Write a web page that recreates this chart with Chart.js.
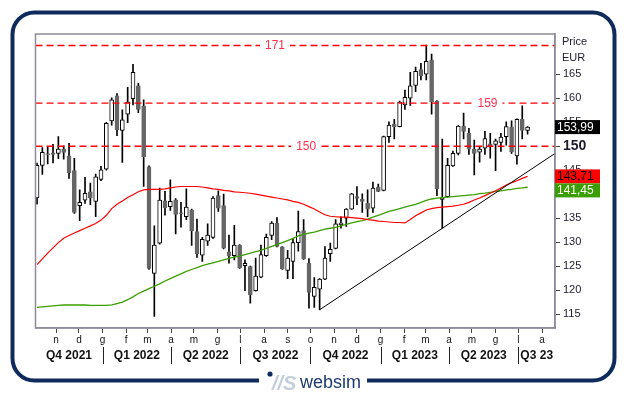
<!DOCTYPE html>
<html>
<head>
<meta charset="utf-8">
<title>Prezzo settimanale</title>
<script src="https://cdn.jsdelivr.net/npm/chart.js@4.4.0/dist/chart.umd.min.js"></script>
<style>
  html, body { margin: 0; padding: 0; background: #fff; }
  canvas { display: block; }
</style>
</head>
<body>
<canvas id="chartPrezzo" width="629" height="395"></canvas>
<script>
// candele settimanali (prima settimana, poi una ogni 7 giorni)
const firstWeek = '2021-10-07';
const opens = [139.2,146.0,148.3,148.6,148.5,149.4,148.0,144.9,137.6,138.75, 140.5,138.5,143.1,145.2,155.3,160.5,153.3,156.7,159.9,162.6,
  158.3,145.7,123.5,129.8,138.6,137.4,138.8,136.0,135.3,136.7, 132.2,127.3,130.2,131.0,139.7,137.6,128.0,127.2,129.4,125.1,
  124.9,119.9,122.7,127.2,131.4,134.0,129.0,124.1,126.0,129.9, 132.4,125.6,118.7,120.2,122.3,127.6,128.7,133.6,135.0,136.9,
  139.5,139.0,138.1,137.1,141.5,140.8,152.0,154.6,154.1,158.6, 160.0,162.7,166.0,165.0,168.0,159.4,138.9,139.5,145.9,148.5,
  154.2,152.7,149.4,148.75,149.6,150.5,150.4,150.8,152.0,154.0, 148.0,155.6,153.3];
const highs = [146.5,149.7,149.8,150.4,152.0,150.1,150.6,147.5,140.9,143.5, 142.3,144.2,145.8,155.0,160.1,161.0,157.6,162.3,167.1,163.1,
  159.7,145.9,133.4,141.25,140.6,143.0,139.1,138.3,141.1,136.9, 134.8,131.0,133.8,139.5,140.7,140.0,131.5,133.5,129.5,126.3,
  125.0,126.7,129.4,131.7,134.3,135.1,129.1,128.3,130.7,136.5, 134.7,126.6,122.6,122.4,129.1,129.8,134.7,135.3,137.0,140.2,
  141.6,140.1,140.9,142.5,142.1,152.1,155.1,155.6,159.4,161.7, 165.4,166.5,167.3,171.1,169.2,159.5,151.5,147.5,149.0,154.3,
  156.9,153.75,151.3,149.9,153.1,152.7,151.5,152.7,155.1,155.3, 155.7,158.4,154.1];
const lows = [137.9,144.1,146.3,146.5,147.4,147.3,143.3,136.0,134.5,138.1, 137.8,135.3,142.8,145.0,154.4,152.2,146.6,154.9,158.6,157.0,
  141.6,124.3,114.5,129.6,135.6,136.6,131.7,133.1,134.7,129.3, 126.8,126.0,129.3,130.8,136.4,128.6,125.6,126.3,124.5,119.9,
  117.3,119.8,122.6,127.0,130.5,129.0,124.3,122.4,122.4,128.1, 126.4,116.25,116.4,115.9,122.2,126.0,128.6,132.9,133.3,136.8,
  137.8,136.2,135.3,136.2,140.5,140.7,150.8,151.5,154.0,157.7, 158.5,161.4,163.8,163.8,156.7,139.7,132.9,139.4,145.8,148.2,
  151.5,148.3,144.0,146.7,148.3,147.5,144.9,148.9,150.2,148.5, 146.25,151.5,152.5];
const closes = [146.0,148.75,148.4,148.3,149.4,148.7,144.5,136.2,138.3,140.2, 139.3,143.6,145.1,154.8,159.7,153.4,155.5,159.2,165.4,157.7,
  147.8,124.5,129.4,138.75,137.2,138.5,135.8,136.1,137.3,132.4, 127.6,130.6,131.5,139.2,137.1,128.75,127.2,129.4,124.7,125.6,
  119.0,122.9,127.4,131.0,134.0,129.1,124.4,126.7,129.9,132.2, 126.5,119.5,120.6,122.3,126.7,128.5,133.8,134.0,136.9,140.1,
  139.1,138.5,136.9,141.25,140.6,152.0,154.4,154.1,159.2,160.2, 162.6,165.6,164.7,167.7,159.3,141.1,139.2,146.0,148.5,154.2,
  153.1,149.4,148.5,149.4,151.6,150.1,151.1,151.9,154.1,148.8, 155.6,153.3,153.99];

// medie mobili
const maRossa = [125.3,126.5,127.7,128.8,129.9,130.8,131.4,131.9,132.4,132.9, 133.4,133.9,134.6,135.6,137.0,137.9,138.6,139.3,139.9,140.5,
  140.9,141.0,141.0,141.0,141.1,141.3,141.5,141.6,141.6,141.6, 141.6,141.5,141.3,141.1,141.0,140.8,140.7,140.5,140.4,140.3,
  140.2,140.0,139.8,139.6,139.4,139.2,139.0,138.8,138.5,138.3, 137.9,137.4,136.9,136.3,135.7,135.4,135.3,135.2,135.2,135.1,
  135.0,134.9,134.7,134.6,134.4,134.3,134.2,134.1,134.1,134.0, 134.7,135.5,136.1,136.7,137.0,137.2,137.3,137.4,137.5,137.7,
  137.9,138.3,138.8,139.2,139.7,140.2,140.7,141.3,141.9,142.4, 142.8,143.3,143.71];
const maVerde = [116.4,116.5,116.6,116.7,116.8,116.9,116.9,116.9,116.9,116.9, 116.8,116.8,116.8,116.8,116.9,117.2,117.5,118.0,118.6,119.3,
  119.8,120.3,120.8,121.3,121.9,122.4,122.9,123.4,123.9,124.3, 124.7,125.1,125.4,125.7,126.0,126.3,126.6,126.9,127.1,127.4,
  127.7,128.0,128.3,128.7,129.1,129.5,129.9,130.3,130.8,131.3, 131.6,131.9,132.1,132.4,132.7,132.9,133.1,133.4,133.7,134.0,
  134.3,134.5,134.8,135.2,135.6,136.0,136.4,136.7,137.0,137.3, 137.6,137.9,138.3,138.7,139.0,139.2,139.3,139.4,139.5,139.6,
  139.7,139.8,139.9,140.1,140.2,140.4,140.6,140.7,140.9,141.0, 141.2,141.3,141.45];

// livelli orizzontali e trendline
const livelli = [171, 159, 150];
const trendDates = ['2022-10-13', '2023-08-18'];
const trendValues = [115.9, 148.5];

// assi
const xRange = ['2021-10-05', '2023-08-18'];
const yRange = [112.1, 173.4];
const yTicks = [115, 120, 125, 130, 135, 140, 145, 150, 155, 160, 165];
const monthStarts = ['2021-11-01','2021-12-01','2022-01-01','2022-02-01','2022-03-01','2022-04-01','2022-05-01','2022-06-01',
  '2022-07-01','2022-08-01','2022-09-01','2022-10-01','2022-11-01','2022-12-01','2023-01-01','2023-02-01','2023-03-01',
  '2023-04-01','2023-05-01','2023-06-01','2023-07-01','2023-08-01'];
const monthLabels = ['n','d','g','f','m','a','m','g','l','a','s','o','n','d','g','f','m','a','m','g','l','a'];
const quarterStarts = ['2021-10-01','2022-01-01','2022-04-01','2022-07-01','2022-10-01','2023-01-01','2023-04-01','2023-07-01'];
const quarterLabels = ['Q4 2021','Q1 2022','Q2 2022','Q3 2022','Q4 2022','Q1 2023','Q2 2023','Q3 23'];

const FONT = '"Liberation Sans", Arial, sans-serif';
const levelLabelPos = [0.461, 0.870, 0.521];

function day(s) {
  const p = s.split('-').map(Number);
  return Date.UTC(p[0], p[1] - 1, p[2]) / 86400000;
}
const weekX = opens.map((_, i) => day(firstWeek) + 7 * i);
const fmt = v => v.toFixed(2).replace('.', ',');

Chart.defaults.font.family = FONT;

const decor = {
  id: 'decor',
  beforeDraw(chart) {
    const c = chart.ctx;
    c.save();
    c.fillStyle = '#fff';
    c.fillRect(0, 0, chart.width, chart.height);
    // cornice blu
    c.strokeStyle = '#0f2b5b';
    c.lineWidth = 4;
    c.beginPath();
    c.roundRect(12.5, 12.5, 602, 368, 22);
    c.stroke();
    c.fillStyle = '#fff';
    c.fillRect(259, 372, 108, 16);
    // logo
    c.fillStyle = '#0f2b5b';
    c.beginPath();
    c.arc(270, 374, 2.6, 0, Math.PI * 2);
    c.fill();
    c.font = 'italic bold 20px ' + FONT;
    c.fillStyle = '#c3cedb';
    c.textBaseline = 'alphabetic';
    c.fillText('//S', 272, 390);
    c.font = '18px ' + FONT;
    c.fillStyle = '#1d3a6d';
    c.fillText('websim', 300, 388);
    c.restore();
  },
  afterDatasetsDraw(chart) {
    const c = chart.ctx;
    const { left, right, top, bottom } = chart.chartArea;
    const xs = chart.scales.x, ys = chart.scales.y;
    c.save();
    c.strokeStyle = '#8c8c9c';
    c.lineWidth = 1.5;
    c.strokeRect(left, top, right - left, bottom - top);

    // etichette dei livelli
    c.font = '12px ' + FONT;
    c.textAlign = 'center';
    c.textBaseline = 'middle';
    livelli.forEach((lv, i) => {
      const x = left + levelLabelPos[i] * (right - left);
      const y = ys.getPixelForValue(lv);
      const w = c.measureText(String(lv)).width + 10;
      c.fillStyle = '#fff';
      c.fillRect(x - w / 2, y - 2, w, 4);
      c.fillStyle = '#ff2f4f';
      c.fillText(String(lv), x, y + 0.5);
    });

    // Price / EUR
    c.textAlign = 'left';
    c.font = '11px ' + FONT;
    c.fillStyle = '#1b1b2b';
    c.fillText('Price', right + 7, 42);
    c.fillText('EUR', right + 7, 58);

    // riquadri ultimi valori
    const boxes = [
      [closes[closes.length - 1], '#000', '#fff'],
      [maRossa[maRossa.length - 1], '#ff0000', '#000'],
      [maVerde[maVerde.length - 1], '#3a9e00', '#fff']
    ];
    let prev = -Infinity;
    c.font = '12px ' + FONT;
    boxes.forEach(b => {
      let t = ys.getPixelForValue(b[0]) - 7;
      if (t < prev) t = prev;
      c.fillStyle = b[1];
      c.fillRect(right, t, 45, 14);
      c.fillStyle = b[2];
      c.fillText(fmt(b[0]), right + 2, t + 7.5);
      prev = t + 14;
    });

    // trimestri
    c.font = 'bold 12px ' + FONT;
    c.textAlign = 'center';
    c.fillStyle = '#111';
    c.strokeStyle = '#222';
    c.lineWidth = 1;
    quarterStarts.forEach((q, i) => {
      const px = xs.getPixelForValue(day(q));
      const a = Math.max(px, left);
      const nx = i + 1 < quarterStarts.length ? xs.getPixelForValue(day(quarterStarts[i + 1])) : right;
      const b = Math.min(nx, right);
      c.fillText(quarterLabels[i], (a + b) / 2, 356);
      if (px > left) {
        c.beginPath();
        c.moveTo(Math.round(px) + 0.5, 347);
        c.lineTo(Math.round(px) + 0.5, 364);
        c.stroke();
      }
    });
    c.restore();
  }
};

const up = i => closes[i] >= opens[i];
const xMin = day(xRange[0]), xMax = day(xRange[1]);

new Chart(document.getElementById('chartPrezzo'), {
  type: 'bar',
  data: {
    datasets: [
      ...livelli.map(lv => ({
        type: 'line',
        data: [{ x: xMin, y: lv }, { x: xMax, y: lv }],
        borderColor: '#ff0000', borderWidth: 1.3, borderDash: [7, 4],
        pointRadius: 0, order: 0
      })),
      {
        type: 'line',
        data: trendDates.map((d, i) => ({ x: day(d), y: trendValues[i] })),
        borderColor: '#000', borderWidth: 1, pointRadius: 0, order: 1
      },
      {
        type: 'line',
        data: weekX.map((x, i) => ({ x: x, y: maRossa[i] })),
        borderColor: '#ff0000', borderWidth: 1.2, pointRadius: 0, order: 2
      },
      {
        type: 'line',
        data: weekX.map((x, i) => ({ x: x, y: maVerde[i] })),
        borderColor: '#3a9e00', borderWidth: 1.3, pointRadius: 0, order: 3
      },
      {
        type: 'bar',
        data: weekX.map((x, i) => ({ x: x, y: [opens[i], closes[i]] })),
        backgroundColor: ctx => up(ctx.dataIndex) ? '#fff' : '#666',
        borderColor: ctx => up(ctx.dataIndex) ? '#000' : '#666',
        borderWidth: 1, borderSkipped: false, barThickness: 4, grouped: false, order: 4
      },
      {
        type: 'bar',
        data: weekX.map((x, i) => ({ x: x, y: [lows[i], highs[i]] })),
        backgroundColor: '#000', barThickness: 1, grouped: false, order: 5
      }
    ]
  },
  options: {
    responsive: false,
    animation: false,
    devicePixelRatio: 1,
    layout: { padding: { left: 35.5, top: 34, right: 14, bottom: 45 } },
    plugins: { legend: { display: false }, tooltip: { enabled: false } },
    scales: {
      x: {
        type: 'linear', min: xMin, max: xMax, offset: false,
        afterBuildTicks: s => { s.ticks = monthStarts.map(d => ({ value: day(d) })); },
        afterFit: s => { s.height = 22; },
        ticks: {
          autoSkip: false, maxRotation: 0, padding: 1,
          font: { size: 10 }, color: '#111',
          callback: (v, i) => monthLabels[i]
        },
        grid: { drawOnChartArea: false, offset: false, tickLength: 5, color: '#444' },
        border: { display: true, color: '#8c8c9c', width: 1.5 }
      },
      y: {
        position: 'right', min: yRange[0], max: yRange[1], beginAtZero: false,
        afterBuildTicks: s => { s.ticks = yTicks.map(v => ({ value: v })); },
        afterFit: s => { s.width = 60; },
        ticks: {
          padding: 3, color: '#1b1b2b',
          font: ctx => (ctx.tick && ctx.tick.value === 150) ? { size: 14, weight: 'bold' } : { size: 11 }
        },
        grid: { drawOnChartArea: false, tickLength: 5, color: '#444' },
        border: { display: true, color: '#8c8c9c', width: 1.5 }
      }
    }
  },
  plugins: [decor]
});
</script>
</body>
</html>
